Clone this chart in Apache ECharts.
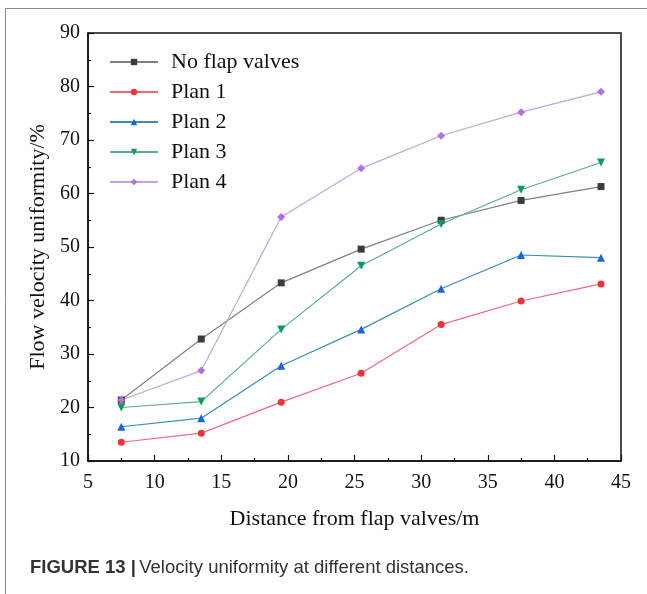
<!DOCTYPE html>
<html>
<head>
<meta charset="utf-8">
<script src="https://cdn.jsdelivr.net/npm/echarts@6/dist/echarts.min.js"></script>
<style>
  html, body { margin: 0; padding: 0; background: #fff; }
  #chart { width: 647px; height: 594px; }
</style>
</head>
<body>
<div id="chart"></div>
<script>
// Measurement positions along the channel (m)
const distances = [7.5, 13.5, 19.5, 25.5, 31.5, 37.5, 43.5];

// Flow velocity uniformity (%) for each layout
const noFlapValves = [21.4, 32.8, 43.3, 49.6, 55.0, 58.7, 61.3];
const plan1 = [13.5, 15.2, 21.0, 26.4, 35.5, 39.9, 43.1];
const plan2 = [16.4, 18.0, 27.8, 34.6, 42.2, 48.5, 48.0];
const plan3 = [20.0, 21.1, 34.6, 46.5, 54.3, 60.7, 65.8];
const plan4 = [21.4, 26.9, 55.6, 64.7, 70.8, 75.2, 79.0];

const seriesNames = ['No flap valves', 'Plan 1', 'Plan 2', 'Plan 3', 'Plan 4'];
const seriesValues = [noFlapValves, plan1, plan2, plan3, plan4];

const styles = [
  { line: '#808080', mark: '#3c3c3c', symbol: 'rect', size: 7, rotate: 0 },
  { line: '#ee6a78', mark: '#f0323c', symbol: 'circle', size: 7, rotate: 0 },
  { line: '#3a8cb4', mark: '#1766d8', symbol: 'triangle', size: 8, rotate: 0 },
  { line: '#5aab9a', mark: '#0e9a5a', symbol: 'triangle', size: 8, rotate: 180 },
  { line: '#c6a2de', mark: '#b070e0', symbol: 'diamond', size: 8, rotate: 0 }
];

const serif = '"Liberation Serif", "Times New Roman", serif';

const chart = echarts.init(document.getElementById('chart'), null, { renderer: 'canvas' });

chart.setOption({
  backgroundColor: '#fff',
  animation: false,
  grid: {
    left: 88, right: 26, top: 33, bottom: 133,
    show: true, borderColor: '#111', borderWidth: 1.5, backgroundColor: 'transparent'
  },
  legend: {
    left: 104, top: 46,
    orient: 'vertical',
    itemWidth: 48, itemHeight: 8, itemGap: 8,
    textStyle: { fontFamily: serif, fontSize: 22, color: '#111', lineHeight: 22, padding: [0, 0, 0, 8] },
    data: seriesNames
  },
  xAxis: {
    type: 'value', min: 5, max: 45, interval: 5,
    name: 'Distance from flap valves/m',
    nameLocation: 'middle', nameGap: 47,
    nameTextStyle: { fontFamily: serif, fontSize: 22, color: '#111' },
    axisLine: { show: true, lineStyle: { color: '#111', width: 1.5 } },
    axisTick: { show: true, inside: true, length: 6, lineStyle: { color: '#111', width: 1.2 } },
    minorTick: { show: true, splitNumber: 2, length: 3, lineStyle: { color: '#111', width: 1.2 } },
    axisLabel: { fontFamily: serif, fontSize: 20, color: '#111', margin: 12 },
    splitLine: { show: false }
  },
  yAxis: {
    type: 'value', min: 10, max: 90, interval: 10,
    name: 'Flow velocity uniformity/%',
    nameLocation: 'middle', nameGap: 38, nameRotate: 90,
    nameTextStyle: { fontFamily: serif, fontSize: 22, color: '#111' },
    axisLine: { show: true, lineStyle: { color: '#111', width: 1.5 } },
    axisTick: { show: true, inside: true, length: 6, lineStyle: { color: '#111', width: 1.2 } },
    minorTick: { show: true, splitNumber: 2, length: 3, lineStyle: { color: '#111', width: 1.2 } },
    axisLabel: { fontFamily: serif, fontSize: 20, color: '#111', margin: 8 },
    splitLine: { show: false }
  },
  series: seriesNames.map((name, i) => ({
    name: name,
    type: 'line',
    data: distances.map((d, k) => [d, seriesValues[i][k]]),
    symbol: styles[i].symbol,
    symbolSize: styles[i].size,
    symbolRotate: styles[i].rotate,
    showAllSymbol: true,
    lineStyle: { color: styles[i].line, width: 1.2 },
    itemStyle: { color: styles[i].mark }
  })),
  graphic: [
    {
      type: 'rect',
      shape: { x: 5.5, y: 8.5, width: 700, height: 700 },
      style: { fill: 'none', stroke: '#8a8a8a', lineWidth: 1 },
      silent: true
    },
    {
      type: 'text',
      left: 30, top: 558,
      style: {
        text: '{b|FIGURE 13 |} {n|Velocity uniformity at different distances.}',
        rich: {
          b: { fontFamily: '"Liberation Sans", Arial, sans-serif', fontWeight: 'bold', fontSize: 18.5, fill: '#333' },
          n: { fontFamily: '"Liberation Sans", Arial, sans-serif', fontSize: 18.5, fill: '#333' }
        }
      }
    }
  ]
});
</script>
</body>
</html>
